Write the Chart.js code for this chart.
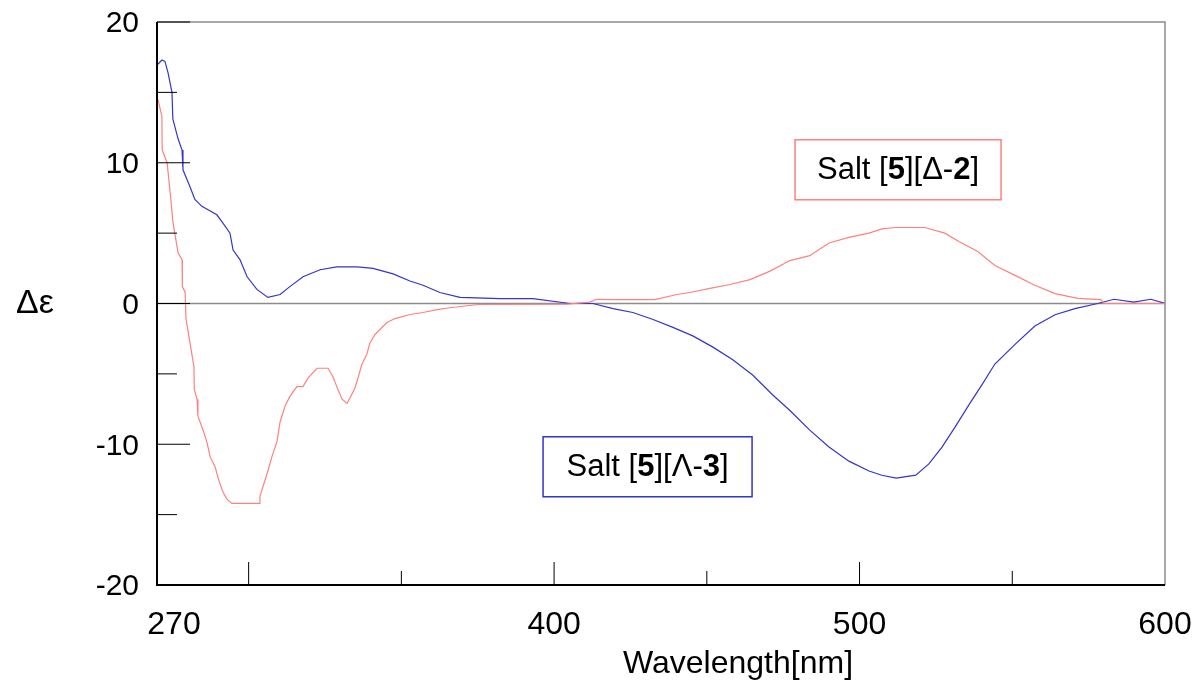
<!DOCTYPE html>
<html>
<head>
<meta charset="utf-8">
<script src="https://cdn.jsdelivr.net/npm/chart.js@4"></script>
<style>
  html, body { margin: 0; padding: 0; background: #fff; }
  #wrap { width: 1198px; height: 686px; }
</style>
</head>
<body>
<div id="wrap"><canvas id="cdChart"></canvas></div>
<script>
// wavelengths / values
const waveDelta = [270.3, 271.6, 271.7, 273.3, 274.3, 275.2, 276.9, 278.2, 278.3, 279.2, 279.5, 280.8, 282.1, 282.2, 283.1, 283.4, 285.1, 286.4, 287.4, 289.0, 290.3, 291.6, 292.9, 294.5, 303.4, 303.7, 306.3, 307.6, 309.3, 310.3, 311.9, 313.5, 315.8, 317.8, 319.4, 322.4, 326.0, 327.6, 329.2, 330.6, 332.2, 333.2, 334.8, 335.8, 337.1, 338.7, 339.7, 341.4, 343.0, 345.3, 347.9, 352.8, 357.1, 361.7, 365.9, 375.1, 404.2, 411.6, 414.0, 419.3, 433.0, 440.2, 444.5, 451.0, 457.6, 464.1, 470.7, 477.2, 483.7, 490.0, 496.5, 503.1, 507.3, 511.9, 521.4, 527.9, 532.5, 538.7, 544.3, 550.9, 557.4, 564.0, 571.5, 579.0, 580.0, 600.0];
const valsDelta = [14.5, 13.3, 10.9, 10.0, 7.9, 5.8, 3.6, 3.1, 1.2, 0.8, -1.1, -2.8, -4.5, -6.1, -6.8, -8.0, -9.0, -9.9, -10.9, -11.6, -12.6, -13.4, -13.9, -14.2, -14.2, -13.7, -11.9, -10.9, -9.8, -8.4, -7.3, -6.6, -5.9, -5.9, -5.3, -4.6, -4.6, -5.2, -6.1, -6.8, -7.1, -6.7, -6.0, -5.3, -4.3, -3.6, -2.8, -2.2, -1.85, -1.35, -1.07, -0.78, -0.64, -0.43, -0.3, -0.07, -0.05, 0.1, 0.3, 0.28, 0.28, 0.64, 0.78, 1.07, 1.35, 1.7, 2.3, 3.05, 3.4, 4.3, 4.7, 5.0, 5.3, 5.4, 5.4, 5.0, 4.4, 3.7, 2.7, 2.0, 1.3, 0.7, 0.36, 0.28, 0.0, 0.0];

const waveLambda = [270.3, 271.6, 272.6, 273.6, 274.9, 275.2, 276.9, 278.2, 278.5, 280.8, 282.4, 284.7, 289.6, 291.3, 293.9, 294.9, 297.2, 299.5, 302.7, 306.3, 310.3, 313.5, 317.8, 323.4, 328.9, 335.5, 340.7, 347.3, 352.8, 357.1, 362.6, 369.2, 382.3, 393.1, 405.2, 412.7, 419.3, 425.8, 432.4, 438.9, 445.4, 452.0, 458.5, 465.1, 471.6, 477.2, 483.7, 490.0, 496.5, 503.1, 507.3, 512.0, 518.4, 522.7, 527.0, 531.2, 535.8, 540.0, 544.3, 550.9, 557.4, 564.0, 570.5, 578.0, 583.3, 589.8, 595.4, 600.0];
const valsLambda = [17.0, 17.3, 17.2, 16.4, 15.0, 13.1, 11.7, 10.9, 9.5, 8.3, 7.4, 6.9, 6.3, 5.8, 5.0, 3.8, 3.1, 1.9, 1.0, 0.43, 0.64, 1.2, 1.9, 2.4, 2.6, 2.6, 2.5, 2.1, 1.6, 1.3, 0.78, 0.43, 0.35, 0.35, 0.0, 0.0, -0.36, -0.64, -1.14, -1.7, -2.3, -3.1, -4.0, -5.1, -6.5, -7.6, -9.0, -10.2, -11.2, -11.9, -12.2, -12.4, -12.2, -11.4, -10.2, -8.8, -7.2, -5.8, -4.3, -2.9, -1.6, -0.8, -0.36, 0.0, 0.3, 0.1, 0.3, 0.0];

const xLabelTicks = [270, 400, 500, 600];
const xMinorTicks = [300, 350, 400, 450, 500, 550];
const yTicks = [20, 10, 0, -10, -20];
const yMinorTicks = [15, 5, -5, -15];

const FONT = '"Liberation Sans", Arial, sans-serif';

function toPoints(xs, ys) {
    return xs.map((x, i) => ({ x: x, y: ys[i] }));
}

// draws a box with a label where some parts are bold
function drawLabelBox(ctx, cx, cy, w, h, color, parts) {
    ctx.save();
    ctx.strokeStyle = color;
    ctx.lineWidth = 1.5;
    ctx.fillStyle = '#fff';
    ctx.fillRect(cx - w / 2, cy - h / 2, w, h);
    ctx.strokeRect(cx - w / 2, cy - h / 2, w, h);
    let total = 0;
    parts.forEach(p => {
        ctx.font = (p[1] ? 'bold ' : '') + '31px ' + FONT;
        total += ctx.measureText(p[0]).width;
    });
    let x = cx - total / 2;
    ctx.fillStyle = '#000';
    ctx.textBaseline = 'middle';
    ctx.textAlign = 'left';
    parts.forEach(p => {
        ctx.font = (p[1] ? 'bold ' : '') + '31px ' + FONT;
        ctx.fillText(p[0], x, cy + 1);
        x += ctx.measureText(p[0]).width;
    });
    ctx.restore();
}

const framePlugin = {
    id: 'frame',
    beforeDatasetsDraw(chart) {
        const { ctx, chartArea: a, scales } = chart;
        const y0 = scales.y.getPixelForValue(0);
        ctx.save();
        ctx.strokeStyle = '#8c8c8c';
        ctx.lineWidth = 1.5;
        ctx.beginPath();
        ctx.moveTo(a.left, y0);
        ctx.lineTo(a.right, y0);
        ctx.stroke();
        ctx.restore();
    },
    afterDatasetsDraw(chart) {
        const { ctx, chartArea: a, scales } = chart;
        ctx.save();
        // top / right in grey
        ctx.strokeStyle = '#8c8c8c';
        ctx.lineWidth = 1.5;
        ctx.beginPath();
        ctx.moveTo(a.left, a.top);
        ctx.lineTo(a.right, a.top);
        ctx.lineTo(a.right, a.bottom);
        ctx.stroke();
        // left / bottom in black
        ctx.strokeStyle = '#000';
        ctx.lineWidth = 2;
        ctx.beginPath();
        ctx.moveTo(a.left, a.top);
        ctx.lineTo(a.left, a.bottom);
        ctx.lineTo(a.right, a.bottom);
        ctx.stroke();

        // inner tick marks
        ctx.lineWidth = 1;
        ctx.beginPath();
        yTicks.forEach(v => {
            const py = scales.y.getPixelForValue(v);
            ctx.moveTo(a.left, py);
            ctx.lineTo(a.left + 33, py);
        });
        yMinorTicks.forEach(v => {
            const py = scales.y.getPixelForValue(v);
            ctx.moveTo(a.left, py);
            ctx.lineTo(a.left + 20, py);
        });
        xMinorTicks.forEach(v => {
            const px = scales.x.getPixelForValue(v);
            const len = v % 100 === 0 ? 23 : 14;
            ctx.moveTo(px, a.bottom);
            ctx.lineTo(px, a.bottom - len);
        });
        ctx.stroke();

        // tick labels
        ctx.fillStyle = '#000';
        ctx.font = '30px ' + FONT;
        ctx.textAlign = 'right';
        ctx.textBaseline = 'middle';
        yTicks.forEach(v => {
            ctx.fillText(String(v), a.left - 18, scales.y.getPixelForValue(v) + 2);
        });
        ctx.font = '32px ' + FONT;
        ctx.textAlign = 'center';
        xLabelTicks.forEach((v, i) => {
            const shift = i === 0 ? 17 : 0;
            ctx.fillText(String(v), scales.x.getPixelForValue(v) + shift, a.bottom + 40);
        });

        // axis titles
        ctx.fillText('Wavelength[nm]', 738, 664);
        ctx.font = '34px ' + FONT;
        ctx.fillText('\u0394\u03B5', 35, scales.y.getPixelForValue(0));
        ctx.restore();

        drawLabelBox(ctx, scales.x.getPixelForValue(512.6), scales.y.getPixelForValue(9.5), 206, 60, '#ff7f7f',
            [['Salt [', false], ['5', true], ['][\u0394-', false], ['2', true], [']', false]]);
        drawLabelBox(ctx, scales.x.getPixelForValue(430.6), scales.y.getPixelForValue(-11.6), 209, 60, '#3333cc',
            [['Salt [', false], ['5', true], ['][\u039B-', false], ['3', true], [']', false]]);
    }
};

const ctx = document.getElementById('cdChart').getContext('2d');
new Chart(ctx, {
    type: 'line',
    data: {
        datasets: [{
            label: 'Salt [5][\u0394-2]',
            data: toPoints(waveDelta, valsDelta),
            borderColor: '#ff8080',
            borderWidth: 1.2,
            pointRadius: 0,
            tension: 0,
            fill: false
        }, {
            label: 'Salt [5][\u039B-3]',
            data: toPoints(waveLambda, valsLambda),
            borderColor: '#3535c8',
            borderWidth: 1.2,
            pointRadius: 0,
            tension: 0,
            fill: false
        }]
    },
    options: {
        responsive: true,
        maintainAspectRatio: false,
        animation: false,
        layout: { padding: { top: 22, right: 33, left: 0, bottom: 0 } },
        plugins: {
            legend: { display: false },
            tooltip: { enabled: false }
        },
        scales: {
            x: {
                type: 'linear',
                min: 270,
                max: 600,
                afterFit: scale => { scale.height = 101; },
                grid: { display: false, drawTicks: false },
                border: { display: false },
                ticks: { display: false }
            },
            y: {
                min: -20,
                max: 20,
                afterFit: scale => { scale.width = 157; },
                grid: { display: false, drawTicks: false },
                border: { display: false },
                ticks: { display: false }
            }
        }
    },
    plugins: [framePlugin]
});
</script>
</body>
</html>
